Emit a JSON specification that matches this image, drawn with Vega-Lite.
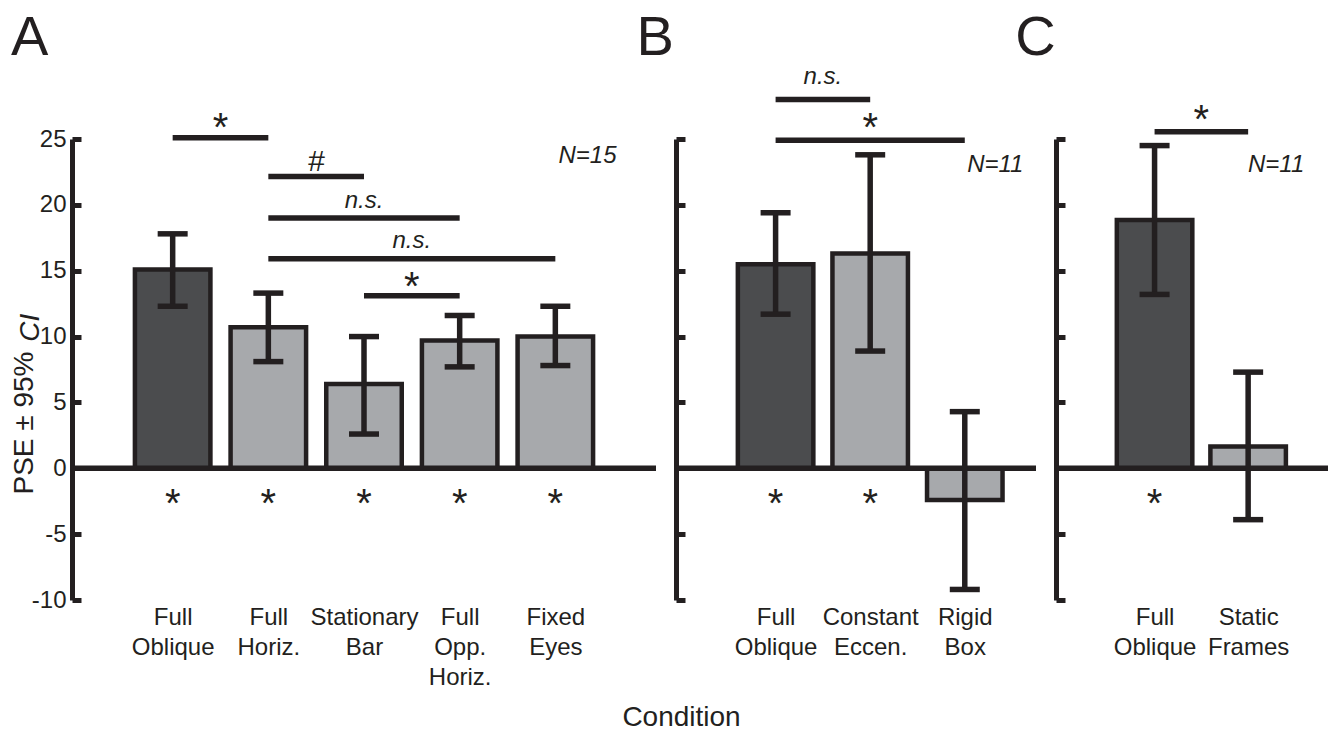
{
  "$schema": "https://vega.github.io/schema/vega-lite/v6.json",
  "background": "white",
  "padding": {"left": 10, "top": 10, "right": 0, "bottom": 0},
  "bounds": "flush",
  "spacing": 20,
  "config": {
    "font": "Liberation Sans",
    "view": {"stroke": null},
    "text": {"color": "#231f20"}
  },
  "title": {"text": "Condition", "orient": "bottom", "anchor": "middle", "fontSize": 28, "fontWeight": "normal", "color": "#231f20", "offset": 15, "dx": 11},
  "resolve": {"scale": {"x": "independent", "y": "independent"}},
  "datasets": {
    "one": [{"k": 1}],
    "barsA": [
      {"pos": 1, "cond": "Full Oblique", "grp": "ref", "pse": 15.1, "lo": 12.3, "hi": 17.8, "sig": "*"},
      {"pos": 2, "cond": "Full Horiz.", "grp": "cmp", "pse": 10.7, "lo": 8.1, "hi": 13.3, "sig": "*"},
      {"pos": 3, "cond": "Stationary Bar", "grp": "cmp", "pse": 6.4, "lo": 2.6, "hi": 10.0, "sig": "*"},
      {"pos": 4, "cond": "Full Opp. Horiz.", "grp": "cmp", "pse": 9.7, "lo": 7.7, "hi": 11.6, "sig": "*"},
      {"pos": 5, "cond": "Fixed Eyes", "grp": "cmp", "pse": 10.0, "lo": 7.8, "hi": 12.3, "sig": "*"}
    ],
    "barsB": [
      {"pos": 1, "cond": "Full Oblique", "grp": "ref", "pse": 15.5, "lo": 11.7, "hi": 19.4, "sig": "*"},
      {"pos": 2, "cond": "Constant Eccen.", "grp": "cmp", "pse": 16.3, "lo": 8.9, "hi": 23.8, "sig": "*"},
      {"pos": 3, "cond": "Rigid Box", "grp": "cmp", "pse": -2.4, "lo": -9.2, "hi": 4.3, "sig": ""}
    ],
    "barsC": [
      {"pos": 1, "cond": "Full Oblique", "grp": "ref", "pse": 18.85, "lo": 13.2, "hi": 24.5, "sig": "*"},
      {"pos": 2, "cond": "Static Frames", "grp": "cmp", "pse": 1.65, "lo": -3.9, "hi": 7.3, "sig": ""}
    ],
    "brA": [
      {"x1": 1, "x2": 2, "y": 25.1, "xm": 1.5, "ly": 26.4, "lab": "*"},
      {"x1": 2, "x2": 3, "y": 22.15, "xm": 2.5, "ly": 23.4, "lab": "#"},
      {"x1": 2, "x2": 4, "y": 19.0, "xm": 3.0, "ly": 20.2, "lab": "n.s."},
      {"x1": 2, "x2": 5, "y": 15.9, "xm": 3.5, "ly": 17.2, "lab": "n.s."},
      {"x1": 3, "x2": 4, "y": 13.1, "xm": 3.5, "ly": 14.3, "lab": "*"}
    ],
    "brB": [
      {"x1": 1, "x2": 2, "y": 28.0, "xm": 1.5, "ly": 29.6, "lab": "n.s."},
      {"x1": 1, "x2": 3, "y": 24.9, "xm": 2.0, "ly": 26.4, "lab": "*"}
    ],
    "brC": [
      {"x1": 1, "x2": 2, "y": 25.55, "xm": 1.5, "ly": 27.0, "lab": "*"}
    ]
  },
  "hconcat": [
    {
      "width": 584,
      "height": 461,
      "layer": [
        {"data": {"name": "barsA"}, "mark": {"type": "bar", "width": 75.5, "stroke": "#231f20", "strokeWidth": 4.5},
         "encoding": {
           "x": {"field": "pos", "type": "quantitative", "scale": {"domain": [0, 6], "nice": false},
                 "axis": {"values": [1, 2, 3, 4, 5], "labelExpr": "[[''],['Full','Oblique'],['Full','Horiz.'],['Stationary','Bar'],['Full','Opp.','Horiz.'],['Fixed','Eyes']][datum.value]", "domain": false, "ticks": false, "grid": false, "title": null, "labelFontSize": 24, "labelColor": "#231f20", "labelLineHeight": 30, "labelBaseline": "top", "labelPadding": 5, "labelFlush": false, "labelOverlap": false, "labelBound": false, "labelAlign": "center"}},
           "y": {"field": "pse", "type": "quantitative", "scale": {"domain": [-10, 25], "nice": false},
                 "axis": {"values": [-10, -5, 0, 5, 10, 15, 20, 25], "labelExpr": "datum.value < 0 ? '-' + abs(datum.value) : '' + datum.value", "grid": false, "domainColor": "#231f20", "domainWidth": 5, "tickColor": "#231f20", "tickWidth": 5, "tickSize": -9, "labelFontSize": 24, "labelColor": "#231f20", "labelPadding": 15, "labelFlush": false, "labelOverlap": false, "title": "PSE ± 95%", "titleFontSize": 28, "titleFontWeight": "normal", "titleColor": "#231f20", "titlePadding": -7, "titleAlign": "left", "titleY": 355}},
           "y2": {"datum": 0},
           "fill": {"field": "grp", "type": "nominal", "scale": {"domain": ["ref", "cmp"], "range": ["#4b4c4e", "#a7a9ac"]}, "legend": null}
         }},
        {"data": {"name": "one"}, "mark": {"type": "rule", "color": "#231f20", "strokeWidth": 5.5}, "encoding": {"y": {"datum": 0, "type": "quantitative"}}},
        {"data": {"name": "barsA"}, "mark": {"type": "rule", "color": "#231f20", "strokeWidth": 5.5},
         "encoding": {"x": {"field": "pos", "type": "quantitative"}, "y": {"field": "lo", "type": "quantitative"}, "y2": {"field": "hi"}}},
        {"data": {"name": "barsA"}, "mark": {"type": "tick", "orient": "horizontal", "size": 30, "thickness": 5.5, "color": "#231f20", "opacity": 1},
         "encoding": {"x": {"field": "pos", "type": "quantitative"}, "y": {"field": "lo", "type": "quantitative"}}},
        {"data": {"name": "barsA"}, "mark": {"type": "tick", "orient": "horizontal", "size": 30, "thickness": 5.5, "color": "#231f20", "opacity": 1},
         "encoding": {"x": {"field": "pos", "type": "quantitative"}, "y": {"field": "hi", "type": "quantitative"}}},
        {"data": {"name": "barsA"}, "mark": {"type": "text", "fontSize": 40, "baseline": "middle", "dy": 8, "color": "#231f20"},
         "encoding": {"x": {"field": "pos", "type": "quantitative"}, "y": {"datum": -2.2, "type": "quantitative"}, "text": {"field": "sig"}}},
        {"data": {"name": "brA"}, "mark": {"type": "rule", "color": "#231f20", "strokeWidth": 5.5},
         "encoding": {"x": {"field": "x1", "type": "quantitative"}, "x2": {"field": "x2"}, "y": {"field": "y", "type": "quantitative"}}},
        {"data": {"name": "brA"}, "transform": [{"filter": "datum.lab == '*'"}], "mark": {"type": "text", "fontSize": 40, "baseline": "middle", "dy": 8, "color": "#231f20"},
         "encoding": {"x": {"field": "xm", "type": "quantitative"}, "y": {"field": "ly", "type": "quantitative"}, "text": {"field": "lab"}}},
        {"data": {"name": "brA"}, "transform": [{"filter": "datum.lab == '#'"}], "mark": {"type": "text", "fontSize": 30, "fontStyle": "italic", "baseline": "middle", "dy": 2, "color": "#231f20"},
         "encoding": {"x": {"field": "xm", "type": "quantitative"}, "y": {"field": "ly", "type": "quantitative"}, "text": {"field": "lab"}}},
        {"data": {"name": "brA"}, "transform": [{"filter": "datum.lab == 'n.s.'"}], "mark": {"type": "text", "fontSize": 24, "fontStyle": "italic", "baseline": "middle", "dy": -1, "color": "#231f20"},
         "encoding": {"x": {"field": "xm", "type": "quantitative"}, "y": {"field": "ly", "type": "quantitative"}, "text": {"field": "lab"}}},
        {"data": {"name": "one"}, "mark": {"type": "text", "fontSize": 24, "fontStyle": "italic", "align": "right", "baseline": "alphabetic", "color": "#231f20"},
         "encoding": {"x": {"datum": 5.64, "type": "quantitative"}, "y": {"datum": 23.2, "type": "quantitative"}, "text": {"value": "N=15"}}},
        {"data": {"name": "one"}, "mark": {"type": "text", "fontSize": 28, "fontStyle": "italic", "angle": 270, "align": "left", "baseline": "alphabetic", "color": "#231f20"},
         "encoding": {"x": {"datum": -0.40, "type": "quantitative"}, "y": {"datum": 9.6, "type": "quantitative"}, "text": {"value": "CI"}}},
        {"data": {"name": "one"}, "mark": {"type": "text", "fontSize": 56, "align": "left", "baseline": "alphabetic", "color": "#231f20"},
         "encoding": {"x": {"datum": -0.69, "type": "quantitative"}, "y": {"datum": 31.34, "type": "quantitative"}, "text": {"value": "A"}}}
      ]
    },
    {
      "width": 360,
      "height": 461,
      "layer": [
        {"data": {"name": "barsB"}, "mark": {"type": "bar", "width": 75.5, "stroke": "#231f20", "strokeWidth": 4.5},
         "encoding": {
           "x": {"field": "pos", "type": "quantitative", "scale": {"domain": [0, 3.7], "nice": false},
                 "axis": {"values": [1, 2, 3], "labelExpr": "[[''],['Full','Oblique'],['Constant','Eccen.'],['Rigid','Box']][datum.value]", "domain": false, "ticks": false, "grid": false, "title": null, "labelFontSize": 24, "labelColor": "#231f20", "labelLineHeight": 30, "labelBaseline": "top", "labelPadding": 5, "labelFlush": false, "labelOverlap": false, "labelBound": false, "labelAlign": "center"}},
           "y": {"field": "pse", "type": "quantitative", "scale": {"domain": [-10, 25], "nice": false},
                 "axis": {"values": [-10, -5, 0, 5, 10, 15, 20, 25], "grid": false, "domainColor": "#231f20", "domainWidth": 5, "tickColor": "#231f20", "tickWidth": 5, "tickSize": -9, "labels": false, "title": null}},
           "y2": {"datum": 0},
           "fill": {"field": "grp", "type": "nominal", "scale": {"domain": ["ref", "cmp"], "range": ["#4b4c4e", "#a7a9ac"]}, "legend": null}
         }},
        {"data": {"name": "one"}, "mark": {"type": "rule", "color": "#231f20", "strokeWidth": 5.5}, "encoding": {"y": {"datum": 0, "type": "quantitative"}}},
        {"data": {"name": "barsB"}, "mark": {"type": "rule", "color": "#231f20", "strokeWidth": 5.5},
         "encoding": {"x": {"field": "pos", "type": "quantitative"}, "y": {"field": "lo", "type": "quantitative"}, "y2": {"field": "hi"}}},
        {"data": {"name": "barsB"}, "mark": {"type": "tick", "orient": "horizontal", "size": 30, "thickness": 5.5, "color": "#231f20", "opacity": 1},
         "encoding": {"x": {"field": "pos", "type": "quantitative"}, "y": {"field": "lo", "type": "quantitative"}}},
        {"data": {"name": "barsB"}, "mark": {"type": "tick", "orient": "horizontal", "size": 30, "thickness": 5.5, "color": "#231f20", "opacity": 1},
         "encoding": {"x": {"field": "pos", "type": "quantitative"}, "y": {"field": "hi", "type": "quantitative"}}},
        {"data": {"name": "barsB"}, "mark": {"type": "text", "fontSize": 40, "baseline": "middle", "dy": 8, "color": "#231f20"},
         "encoding": {"x": {"field": "pos", "type": "quantitative"}, "y": {"datum": -2.2, "type": "quantitative"}, "text": {"field": "sig"}}},
        {"data": {"name": "brB"}, "mark": {"type": "rule", "color": "#231f20", "strokeWidth": 5.5},
         "encoding": {"x": {"field": "x1", "type": "quantitative"}, "x2": {"field": "x2"}, "y": {"field": "y", "type": "quantitative"}}},
        {"data": {"name": "brB"}, "transform": [{"filter": "datum.lab == '*'"}], "mark": {"type": "text", "fontSize": 40, "baseline": "middle", "dy": 8, "color": "#231f20"},
         "encoding": {"x": {"field": "xm", "type": "quantitative"}, "y": {"field": "ly", "type": "quantitative"}, "text": {"field": "lab"}}},
        {"data": {"name": "brB"}, "transform": [{"filter": "datum.lab == 'n.s.'"}], "mark": {"type": "text", "fontSize": 24, "fontStyle": "italic", "baseline": "middle", "dy": -1, "color": "#231f20"},
         "encoding": {"x": {"field": "xm", "type": "quantitative"}, "y": {"field": "ly", "type": "quantitative"}, "text": {"field": "lab"}}},
        {"data": {"name": "one"}, "mark": {"type": "text", "fontSize": 24, "fontStyle": "italic", "align": "right", "baseline": "alphabetic", "color": "#231f20"},
         "encoding": {"x": {"datum": 3.62, "type": "quantitative"}, "y": {"datum": 22.5, "type": "quantitative"}, "text": {"value": "N=11"}}},
        {"data": {"name": "one"}, "mark": {"type": "text", "fontSize": 56, "align": "left", "baseline": "alphabetic", "color": "#231f20"},
         "encoding": {"x": {"datum": -0.47, "type": "quantitative"}, "y": {"datum": 31.34, "type": "quantitative"}, "text": {"value": "B"}}}
      ]
    },
    {
      "width": 272,
      "height": 461,
      "layer": [
        {"data": {"name": "barsC"}, "mark": {"type": "bar", "width": 75.5, "stroke": "#231f20", "strokeWidth": 4.5},
         "encoding": {
           "x": {"field": "pos", "type": "quantitative", "scale": {"domain": [0, 2.8], "nice": false},
                 "axis": {"values": [1, 2], "labelExpr": "[[''],['Full','Oblique'],['Static','Frames']][datum.value]", "domain": false, "ticks": false, "grid": false, "title": null, "labelFontSize": 24, "labelColor": "#231f20", "labelLineHeight": 30, "labelBaseline": "top", "labelPadding": 5, "labelFlush": false, "labelOverlap": false, "labelBound": false, "labelAlign": "center"}},
           "y": {"field": "pse", "type": "quantitative", "scale": {"domain": [-10, 25], "nice": false},
                 "axis": {"values": [-10, -5, 0, 5, 10, 15, 20, 25], "grid": false, "domainColor": "#231f20", "domainWidth": 5, "tickColor": "#231f20", "tickWidth": 5, "tickSize": -9, "labels": false, "title": null}},
           "y2": {"datum": 0},
           "fill": {"field": "grp", "type": "nominal", "scale": {"domain": ["ref", "cmp"], "range": ["#4b4c4e", "#a7a9ac"]}, "legend": null}
         }},
        {"data": {"name": "one"}, "mark": {"type": "rule", "color": "#231f20", "strokeWidth": 5.5}, "encoding": {"y": {"datum": 0, "type": "quantitative"}}},
        {"data": {"name": "barsC"}, "mark": {"type": "rule", "color": "#231f20", "strokeWidth": 5.5},
         "encoding": {"x": {"field": "pos", "type": "quantitative"}, "y": {"field": "lo", "type": "quantitative"}, "y2": {"field": "hi"}}},
        {"data": {"name": "barsC"}, "mark": {"type": "tick", "orient": "horizontal", "size": 30, "thickness": 5.5, "color": "#231f20", "opacity": 1},
         "encoding": {"x": {"field": "pos", "type": "quantitative"}, "y": {"field": "lo", "type": "quantitative"}}},
        {"data": {"name": "barsC"}, "mark": {"type": "tick", "orient": "horizontal", "size": 30, "thickness": 5.5, "color": "#231f20", "opacity": 1},
         "encoding": {"x": {"field": "pos", "type": "quantitative"}, "y": {"field": "hi", "type": "quantitative"}}},
        {"data": {"name": "barsC"}, "mark": {"type": "text", "fontSize": 40, "baseline": "middle", "dy": 8, "color": "#231f20"},
         "encoding": {"x": {"field": "pos", "type": "quantitative"}, "y": {"datum": -2.2, "type": "quantitative"}, "text": {"field": "sig"}}},
        {"data": {"name": "brC"}, "mark": {"type": "rule", "color": "#231f20", "strokeWidth": 5.5},
         "encoding": {"x": {"field": "x1", "type": "quantitative"}, "x2": {"field": "x2"}, "y": {"field": "y", "type": "quantitative"}}},
        {"data": {"name": "brC"}, "mark": {"type": "text", "fontSize": 40, "baseline": "middle", "dy": 8, "color": "#231f20"},
         "encoding": {"x": {"field": "xm", "type": "quantitative"}, "y": {"field": "ly", "type": "quantitative"}, "text": {"field": "lab"}}},
        {"data": {"name": "one"}, "mark": {"type": "text", "fontSize": 24, "fontStyle": "italic", "align": "right", "baseline": "alphabetic", "color": "#231f20"},
         "encoding": {"x": {"datum": 2.6, "type": "quantitative"}, "y": {"datum": 22.5, "type": "quantitative"}, "text": {"value": "N=11"}}},
        {"data": {"name": "one"}, "mark": {"type": "text", "fontSize": 56, "align": "left", "baseline": "alphabetic", "color": "#231f20"},
         "encoding": {"x": {"datum": -0.49, "type": "quantitative"}, "y": {"datum": 31.34, "type": "quantitative"}, "text": {"value": "C"}}}
      ]
    }
  ]
}
